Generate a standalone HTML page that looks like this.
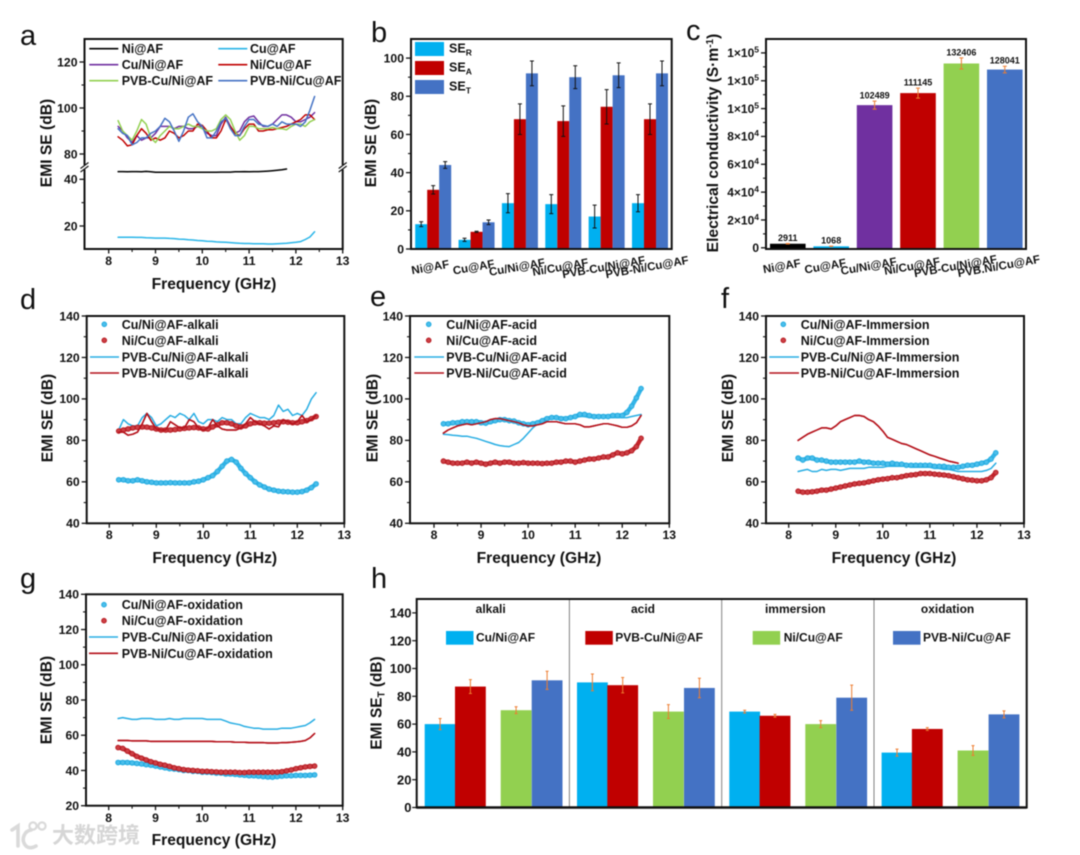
<!DOCTYPE html>
<html lang="en">
<head>
<meta charset="utf-8">
<title>EMI shielding figure</title>
<style>
  html, body { margin: 0; padding: 0; background: #ffffff; }
  #figure { display: block; filter: blur(0.45px); }
  text { font-family: "Liberation Sans", "Noto Sans CJK SC", sans-serif; fill: #111111; }
</style>
</head>
<body>
<svg id="figure" xmlns="http://www.w3.org/2000/svg" width="1080" height="855" viewBox="0 0 1080 855">
  <rect x="0" y="0" width="1080" height="855" fill="#ffffff"></rect>
  <g>
    <g fill="none" stroke="#dadada" stroke-width="3.6" stroke-linecap="round">
      <path d="M12 830 L18 826 L18 846"></path>
      <path d="M31 830 C24 831 22 839 24 843 C26 848 31 849 36 846"></path>
      <circle cx="33" cy="826" r="3.6" stroke-width="2.2"></circle>
      <circle cx="42" cy="826" r="3.6" stroke-width="2.2"></circle>
    </g>
    <text x="52" y="843" font-size="22" font-weight="bold" style="fill:#d6d6d6">大数跨境</text>
  </g>
</svg>
<script>
// ---------- shared frequency grid (GHz) ----------
const freqGHz = [8.2,8.3,8.4,8.5,8.6,8.7,8.8,8.9,9.0,9.1,9.2,9.3,9.4,9.5,9.6,9.7,9.8,9.9,10.0,10.1,10.2,10.3,10.4,10.5,10.6,10.7,10.8,10.9,11.0,11.1,11.2,11.3,11.4,11.5,11.6,11.7,11.8,11.9,12.0,12.1,12.2,12.3,12.4];

// ---------- panel a ----------
const aNiAF = [43.3,43.3,43.2,43.3,43.3,43.2,43.4,43.2,43.0,43.0,43.0,43.0,43.0,43.0,43.0,43.0,43.0,43.0,43.0,43.0,43.0,43.0,43.1,43.1,43.1,43.2,43.2,43.3,43.2,43.3,43.3,43.4,43.5,43.7,43.9,44.1,44.4];
const aCuAF = [15.2,15.2,15.2,15.2,15.1,15.1,15.0,14.9,14.8,14.8,14.8,14.7,14.6,14.4,14.3,14.1,14.0,13.8,13.7,13.5,13.4,13.2,13.1,13.0,12.9,12.7,12.6,12.5,12.5,12.4,12.4,12.4,12.3,12.3,12.4,12.5,12.6,12.8,13.0,13.3,14.2,15.3,17.5];
const aCuNiAF = [92,90,87,85,88,86,87,87,89,92,92,92,91,92,92,91,91,92,92,89,88,88,93,96,92,89,90,94,96,96.5,94,92,92,93,95,97,97,96,94,94,95,96,98];
const aNiCuAF = [87.5,86,83.5,84,88,91,89,86,87,86,87,90,89,87,88,90,90,93,92.5,90,87,87,90,95,92,89,88,91,93,93,90,90,90.5,90.5,91,91.5,92,93,94,95,97,97,95];
const aPvbCuNiAF = [94.5,90,88,86,90,95,93,87,85,88,90,92,91,91,92,93,92,92,91,90,90,91,95,97,95,90,86,88,92,92,91,91,91,91.5,91,91,90.5,92,93,93,92,94,95];
const aPvbNiCuAF = [91,89,88,84,85,87,87,89,90,92,95.5,94,90,85.5,90,96,97.5,94,92,87,87,90,94,95.5,91,88,88,92,95,95,93,92.5,92,93,92,94,93,93,93,92,94,99,105];

// ---------- panel b ----------
const bCategories = ['Ni@AF','Cu@AF','Cu/Ni@AF','Ni/Cu@AF','PVB-Cu/Ni@AF','PVB-Ni/Cu@AF'];
const bSER = [13,4.8,24,23.5,17,24];
const bSEA = [31,9,68,67,74.5,68];
const bSET = [44,14,92,90,91,92];
const bErrR = [1.3,0.8,5,5,6,4.5];
const bErrA = [2.2,0.3,8,8,9,8];
const bErrT = [1.8,1.2,6.5,6,6.5,6.5];
const bTicks = [0,20,40,60,80,100];
const bMinorTicks = [10,30,50,70,90];

// ---------- panel c ----------
const cCategories = ['Ni@AF','Cu@AF','Cu/Ni@AF','Ni/Cu@AF','PVB-Cu/Ni@AF','PVB.Ni/Cu@AF'];
const cValues = [2911,1068,102489,111145,132406,128041];
const cErrors = [150,100,2900,3600,4000,2400];
const cBarColors = ['#000000','#00B0F0','#7030A0','#C00000','#92D050','#4472C4'];
const cTicks = [0,20000,40000,60000,80000,100000,120000,140000];
const cTickBase = ['0','2×10','4×10','6×10','8×10','1×10','1×10','1×10'];
const cTickExp = ['','4','4','4','4','5','5','5'];
const cMinorTicks = [10000,30000,50000,70000,90000,110000,130000];

// ---------- panel d ----------
const dCuNi = [61,61,60.5,60.5,61,60.5,60,59.8,59.5,59.5,59.5,59.6,59.5,59.5,59.5,59.5,60,60.3,61,62,63,65,67.5,70,70.8,69.5,66.5,64,62,60,58.5,57.5,56.5,56,55.5,55.3,55.2,55,55,55.3,56,57.2,59];
const dNiCu = [84.5,85,85.5,86,86.3,86.5,86.4,86,85.5,85,85,85,85.2,85.5,85.8,86,86.2,86,85.5,85.5,86.5,87.5,88.5,88.5,88,87,86.5,87,88,88.5,88.5,88.3,88.3,88.5,88.8,89,88.8,88.5,88.5,89,89.5,90.5,91.5];
const dPvbCuNi = [85,90,88,87,87,91,93,91,87,88,90,92,91,93,92,90,93,89,88,90,90,89,91,90,90,88,88,91,93,92,91,91,90,92,97,94,95,92,93,92,95,100,103];
const dPvbNiCu = [84,84,82.5,83,84,88,93,89,85.5,85,85,89,87.5,86,86,90,89,86,85,86,90,87,85.5,85,85,85,86,88,91,89,88,87,85.5,87,86.5,90,89,88,89,92,89,90,92];

// ---------- panel e ----------
const eCuNi = [88,88,88.5,88.5,89,89,89,89,88.5,88.3,89,89.5,90,90,89.5,89.3,88.5,88,87.5,88,88.5,89.5,90.5,91,91,90.5,90.5,91,91.5,92.5,92.5,92,91.5,91.5,91.5,91.5,92,92,92,93.5,96.5,100.5,105];
const eNiCu = [70,69.5,69,69,69,69.5,69,69.5,69,68.5,69,69.5,69,69.5,69.5,69,69,69.3,69,69,69,68.8,69,69,69.5,69.5,70,70,69.5,70,70.5,71,71,71.5,72,72,73,74,73.5,74,75,77,81];
const ePvbCuNi = [83,82.8,82.5,82.3,82,82,81.5,81,80.3,79.5,78.8,78,77.5,77.2,77,78,79,81,83.5,86,88,89.5,90,90.5,90.5,90.5,91,91,91,91.5,91.5,91,91,91,91,91,91,91,91,91,91.5,92,92.5];
const ePvbNiCu = [83.5,85,86,87,87.5,88,87.5,88,88.5,89,90,90.5,90.5,90,89.5,89,88.5,87.5,87,87,87.5,88,89,89,89,88.5,88,88,88,87.5,86.5,86.5,87,87.5,88,88,87.5,87,86.3,86.3,87,88.5,92];

// ---------- panel f ----------
const fCuNi = [71.5,70.5,71.5,71.5,70.5,70.5,70,69.5,69.5,69.5,69.5,69.5,69.5,70,69.5,69.5,69,69,69,68.5,69,68.5,68.5,68,68,68,68,68,68,67.5,67.5,67.5,67,67,67,67.5,68,68,68.5,69,69.5,71,74];
const fNiCu = [55.5,55,55,55.2,55.5,56,56,56.5,57,57.5,58,58.5,59,59.3,59.5,60,60.5,61,61.3,61.5,62,62,62.5,63,63.3,63.5,64,64,64,63.7,63.5,63.3,63,62.5,62,61.5,61,60.8,60.5,60.5,61,62,64.5];
const fPvbCuNi = [65,65.5,66,65,65,66,65.5,66,66,65.5,66,66.5,66.5,66.5,66.5,67,67,67,67,67.5,67.5,67.5,67.5,67.5,67,67,67,67,67,66.5,66.5,66,66,65.5,65,65,65,65,65,65,65.5,66.5,69];
const fPvbNiCu = [80,81.5,83,84,85,86,86,85.5,87,89,90,91,92,92,91.5,90,89,87,84.5,81.5,80.5,79.5,78.5,78,77,76,75,74,73,72.3,71.5,70.8,70,69.5,69];

// ---------- panel g ----------
const gCuNi = [44.5,44.5,44.5,44.3,44,43.7,43.3,43,42.5,42,41.5,41,40.8,40.5,40,40,39.5,39.5,39,39,38.8,38.5,38.5,38,38,37.8,37.5,37.3,37,37,36.8,36.5,36.3,36.2,36.5,36.8,37,37,37.2,37.2,37.2,37.3,37.5];
const gNiCu = [53,52.5,51,49.5,48,47,46,45,44.3,43.5,43,42.3,41.5,41,40.5,40.2,40,39.8,39.5,39.5,39.3,39.2,39,39,39,39,38.8,38.8,39,39,39,39,39,39,39,39.3,39.8,40.3,41,41.5,42,42.3,42.5];
const gPvbCuNi = [69.5,70,69.5,69,69,69.5,69.5,69.5,69,69,69,69.5,69,69,69.5,69.5,69.5,69.5,69.5,69,69,69,69,68,67,66.5,66,65,64.5,64,64,63.5,63.5,63.5,63.5,64,64,64,64.5,65,65.5,67,69];
const gPvbNiCu = [57,57,57,56.8,56.8,56.8,56.8,56.5,56.5,56.5,56.5,56.5,56.5,56.5,56.5,56.5,56.5,56.5,56.5,56.5,56.5,56.3,56.3,56.3,56.3,56,56,56,55.8,55.8,55.8,55.8,55.6,55.6,55.6,55.8,55.8,56,56.2,56.5,57,58.5,61];

// ---------- panel h ----------
const hConditions = ['alkali','acid','immersion','oxidation'];
const hSeriesNames = ['Cu/Ni@AF','PVB-Cu/Ni@AF','Ni/Cu@AF','PVB-Ni/Cu@AF'];
const hCuNi = [60,90,69,39.5];
const hPvbCuNi = [87,88,66,56.5];
const hNiCu = [70,69,60,41];
const hPvbNiCu = [91.5,86,79,67];
const hErrCuNi = [4,6,1,2.5];
const hErrPvbCuNi = [5,5.5,1,1];
const hErrNiCu = [2.5,5,2.5,3.5];
const hErrPvbNiCu = [6.5,7,9,2.5];
const hTicks = [0,20,40,60,80,100,120,140];

// ---------- colours ----------
const BLUE = '#00B0F0', RED = '#C00000', GREEN = '#92D050', PURPLE = '#7030A0', NAVY = '#4472C4', ORANGE = '#ED7D31', INK = '#111111';
const LINE_BLUE = '#27ADE3';

// ---------- helpers ----------
const NS = 'http://www.w3.org/2000/svg';
const root = document.getElementById('figure');
function make(tag, attrs, parent) {
  const node = document.createElementNS(NS, tag);
  for (const k in attrs) node.setAttribute(k, attrs[k]);
  parent.appendChild(node);
  return node;
}
function write(parent, str, x, y, size, anchor, weight) {
  const node = make('text', {x: x, y: y, 'font-size': size, 'text-anchor': anchor || 'start', 'font-weight': weight || 'bold'}, parent);
  node.textContent = str;
  return node;
}
function linearScale(d0, d1, r0, r1) {
  return function (v) { return r0 + (v - d0) * (r1 - r0) / (d1 - d0); };
}
function panelGroup(name) {
  const g = make('g', {}, root);
  
  
  return g;
}
function panelLetter(g, ch, x, y) {
  const t = write(g, ch, x, y, 29, 'start', 'normal');
  
  
}
function frame(g, l, t, r, b) {
  const f = make('rect', {x: l, y: t, width: r - l, height: b - t, fill: 'none', stroke: INK, 'stroke-width': 2}, g);
  
  
}
function yTicks(g, ys, majors, minors, left, labelRight, labeler) {
  majors.forEach(function (v, i) {
    const y = ys(v);
    const tick = make('line', {x1: left - 5, x2: left, y1: y, y2: y, stroke: INK, 'stroke-width': 1.3}, g);
    
    
    const lab = labeler ? labeler(g, v, i, labelRight, y + 4.3) : write(g, String(v), labelRight, y + 4.3, 12.2, 'end');
    
    
  });
  minors.forEach(function (v) {
    const y = ys(v);
    const tick = make('line', {x1: left - 3, x2: left, y1: y, y2: y, stroke: INK, 'stroke-width': 1.1}, g);
    
    
  });
}
function xTicks(g, xs, bottom, labelY) {
  [8, 9, 10, 11, 12, 13].forEach(function (v) {
    const x = xs(v);
    const tick = make('line', {x1: x, x2: x, y1: bottom, y2: bottom + 4.5, stroke: INK, 'stroke-width': 1.3}, g);
    
    
    const lab = write(g, String(v), x, labelY, 12.2, 'middle');
    
    
  });
  [8.5, 9.5, 10.5, 11.5, 12.5].forEach(function (v) {
    const x = xs(v);
    const tick = make('line', {x1: x, x2: x, y1: bottom, y2: bottom + 3, stroke: INK, 'stroke-width': 1.1}, g);
    
    
  });
}
function xTitle(g, x, y) {
  const t = write(g, 'Frequency (GHz)', x, y, 15.6, 'middle');
  
  
}
function yTitle(g, str, x, y) {
  const t = write(g, str, x, y, 15.6, 'middle');
  t.setAttribute('transform', 'rotate(-90 ' + x + ' ' + y + ')');
  
  
  return t;
}
function polylineFor(g, values, xs, ys, color, width) {
  const pts = values.map(function (v, i) { return xs(freqGHz[i]).toFixed(1) + ',' + ys(v).toFixed(1); }).join(' ');
  return make('polyline', {points: pts, fill: 'none', stroke: color, 'stroke-width': width, 'stroke-linejoin': 'round', 'stroke-linecap': 'round'}, g);
}
function markerFor(g, cx, cy, color) {
  const fill = color === 'blue' ? '#4BBEEB' : '#CC3F45';
  const edge = color === 'blue' ? '#22ABE0' : '#B81D24';
  return make('circle', {cx: cx, cy: cy, r: 2.3, fill: fill, stroke: edge, 'stroke-width': 1}, g);
}
function lineSeries(g, name, values, xs, ys, color) {
  const pl = polylineFor(g, values, xs, ys, color, 1.5);
  
  
}
function scatterSeries(g, name, values, xs, ys, kind) {
  const sg = make('g', {}, g);
  
  
  const band = polylineFor(sg, values, xs, ys, kind === 'blue' ? '#35B5E8' : '#C4242B', 4.4);
  
  
  values.forEach(function (v, i) {
    const m = markerFor(sg, xs(freqGHz[i]), ys(v), kind);
    
    
  });
}
function legendLine(g, label, x1, x2, textX, y, color) {
  const ln = make('line', {x1: x1, x2: x2, y1: y, y2: y, stroke: color, 'stroke-width': 1.6}, g);
  
  
  const t = write(g, label, textX, y + 4.5, 12.5);
  
  
}
function legendMarker(g, label, cx, textX, y, kind) {
  const m = markerFor(g, cx, y, kind);
  
  
  const t = write(g, label, textX, y + 4.5, 12.5);
  
  
}
function errorBar(g, x, yLow, yHigh, cap, color, width) {
  const path = 'M' + x + ' ' + yLow + 'V' + yHigh + 'M' + (x - cap) + ' ' + yLow + 'H' + (x + cap) + 'M' + (x - cap) + ' ' + yHigh + 'H' + (x + cap);
  const e = make('path', {d: path, fill: 'none', stroke: color, 'stroke-width': width}, g);
  
  
}
function bar(g, name, x, w, yTop, yBase, color) {
  const r = make('rect', {x: x, y: yTop, width: w, height: yBase - yTop, fill: color}, g);
  
  
}

// generic line/scatter panel (d, e, f, g)
function drawCurvePanel(cfg) {
  const g = panelGroup(cfg.id);
  const xs = linearScale(8, 13, cfg.x8, cfg.right);
  const ys = linearScale(cfg.vBottom, cfg.vTop, cfg.bottom, cfg.top);
  panelLetter(g, cfg.letter, cfg.letterX, cfg.letterY);
  lineSeries(g, 'series-pvb-cu-ni', cfg.pvbCuNi, xs, ys, LINE_BLUE);
  lineSeries(g, 'series-pvb-ni-cu', cfg.pvbNiCu, xs, ys, '#B5121B');
  scatterSeries(g, 'series-cu-ni', cfg.cuNi, xs, ys, 'blue');
  scatterSeries(g, 'series-ni-cu', cfg.niCu, xs, ys, 'red');
  lineSeries(g, 'series-pvb-ni-cu-overlay', cfg.pvbNiCu, xs, ys, '#B5121B');
  frame(g, cfg.left, cfg.top, cfg.right, cfg.bottom);
  yTicks(g, ys, cfg.majors, cfg.minors, cfg.left, cfg.left - 7);
  xTicks(g, xs, cfg.bottom, cfg.tickY);
  xTitle(g, cfg.titleX, cfg.titleY);
  yTitle(g, 'EMI SE (dB)', cfg.yTitleX, cfg.yTitleY);
  const L = cfg.legend;
  legendMarker(g, 'Cu/Ni@AF-' + cfg.suffix, L.marker, L.text, L.rows[0], 'blue');
  legendMarker(g, 'Ni/Cu@AF-' + cfg.suffix, L.marker, L.text, L.rows[1], 'red');
  legendLine(g, 'PVB-Cu/Ni@AF-' + cfg.suffix, L.x1, L.x2, L.text, L.rows[2], LINE_BLUE);
  legendLine(g, 'PVB-Ni/Cu@AF-' + cfg.suffix, L.x1, L.x2, L.text, L.rows[3], '#B5121B');
}

// ---------- draw panel a ----------
(function () {
  const g = panelGroup('panel-a');
  const left = 84.5, right = 342.7, top = 39, bottom = 249;
  const xs = linearScale(8, 13, 108.7, right);
  const yUpper = linearScale(80, 120, 154, 62);
  const yLower = linearScale(20, 40, 226, 179.3);
  const ys = function (v) { return v >= 60 ? yUpper(v) : yLower(v); };
  panelLetter(g, 'a', 20, 45);
  lineSeries(g, 'series-ni-af', aNiAF, xs, ys, '#000000');
  lineSeries(g, 'series-cu-af', aCuAF, xs, ys, '#29B5E8');
  lineSeries(g, 'series-cu-ni-af', aCuNiAF, xs, ys, PURPLE);
  lineSeries(g, 'series-ni-cu-af', aNiCuAF, xs, ys, RED);
  lineSeries(g, 'series-pvb-cu-ni-af', aPvbCuNiAF, xs, ys, GREEN);
  lineSeries(g, 'series-pvb-ni-cu-af', aPvbNiCuAF, xs, ys, NAVY);
  frame(g, left, top, right, bottom);
  [left, right].forEach(function (x) {
    const gap = make('rect', {x: x - 3, y: 165, width: 6, height: 4.5, fill: '#ffffff'}, g);
    
    
    const slash = make('path', {d: 'M' + (x - 4) + ' 168.5L' + (x + 4) + ' 162.5M' + (x - 4) + ' 172L' + (x + 4) + ' 166', fill: 'none', stroke: INK, 'stroke-width': 1.1}, g);
    
    
  });
  yTicks(g, ys, [20, 40, 80, 100, 120], [30, 90, 110], left, 77.5);
  xTicks(g, xs, bottom, 265);
  xTitle(g, 214, 289);
  yTitle(g, 'EMI SE (dB)', 51.5, 143);
  legendLine(g, 'Ni@AF', 89.3, 118.3, 121.7, 48.7, '#000000');
  legendLine(g, 'Cu@AF', 218.3, 247.3, 250, 48.7, '#29B5E8');
  legendLine(g, 'Cu/Ni@AF', 89.3, 118.3, 121.7, 64.7, PURPLE);
  legendLine(g, 'Ni/Cu@AF', 218.3, 247.3, 250, 64.7, RED);
  legendLine(g, 'PVB-Cu/Ni@AF', 89.3, 118.3, 121.7, 80.7, GREEN);
  legendLine(g, 'PVB-Ni/Cu@AF', 218.3, 247.3, 250, 80.7, NAVY);
})();

// ---------- draw panel b ----------
(function () {
  const g = panelGroup('panel-b');
  const left = 411, right = 671.7, top = 39, bottom = 249;
  const ys = linearScale(0, 110, bottom, top);
  const groupX = linearScale(0, 5, 433.2, 650);
  const w = 12;
  panelLetter(g, 'b', 371, 42);
  bCategories.forEach(function (cat, i) {
    const c = groupX(i);
    const series = [[bSER, bErrR, BLUE, 'bar-se-r'], [bSEA, bErrA, RED, 'bar-se-a'], [bSET, bErrT, NAVY, 'bar-se-t']];
    series.forEach(function (s, j) {
      const x = c - 18 + j * 12;
      const v = s[0][i], e = s[1][i];
      bar(g, s[3], x, w, ys(v), bottom, s[2]);
      errorBar(g, x + w / 2, ys(v - e), ys(v + e), 2, '#111111', 1);
    });
    const t = write(g, cat, c - 3, 271, 11.5, 'middle');
    t.setAttribute('transform', 'rotate(-10 ' + (c - 3) + ' 267)');
    
    
  });
  frame(g, left, top, right, bottom);
  yTicks(g, ys, bTicks, bMinorTicks, left, 404);
  yTitle(g, 'EMI SE (dB)', 376, 143);
  [[42, BLUE, 'R'], [61, RED, 'A'], [80, NAVY, 'T']].forEach(function (row) {
    const sw = make('rect', {x: 415, y: row[0], width: 29, height: 14, fill: row[1]}, g);
    
    
    const t = write(g, 'SE', 449, row[0] + 10.5, 12.5);
    
    
    const sub = make('tspan', {dy: 3, 'font-size': 8.5}, t);
    sub.textContent = row[2];
  });
})();

// ---------- draw panel c ----------
(function () {
  const g = panelGroup('panel-c');
  const left = 766, right = 1026, top = 39, bottom = 249;
  const ys = linearScale(0, 150000, 247.8, top);
  const groupX = linearScale(0, 5, 787.8, 1004.8);
  panelLetter(g, 'c', 686, 40);
  frame(g, left, top, right, bottom);
  cValues.forEach(function (v, i) {
    const c = groupX(i);
    bar(g, 'bar-conductivity', c - 17.8, 35.6, ys(v), 248, cBarColors[i]);
    errorBar(g, c, ys(v - cErrors[i]), ys(v + cErrors[i]), 2, ORANGE, 1);
    const val = write(g, String(v), c, ys(v + cErrors[i]) - 2.5, 9, 'middle');
    
    
    const t = write(g, cCategories[i], c - 6, 270, 11.5, 'middle');
    t.setAttribute('transform', 'rotate(-10 ' + (c - 6) + ' 266)');
    
    
  });
  yTicks(g, ys, cTicks, cMinorTicks, left, 759, function (parent, v, i, x, y) {
    const t = write(parent, cTickBase[i], x, y, 12, 'end');
    if (cTickExp[i]) {
      const sup = make('tspan', {dy: -4.5, 'font-size': 8.5}, t);
      sup.textContent = cTickExp[i];
    }
    return t;
  });
  const title = yTitle(g, 'Electrical conductivity (S·m', 718, 143);
  const sup = make('tspan', {dy: -5, 'font-size': 10}, title);
  sup.textContent = '-1';
  const close = make('tspan', {dy: 5}, title);
  close.textContent = ')';
})();

// ---------- draw panels d-g ----------
const tickSet = [40, 60, 80, 100, 120, 140];
const minorSet = [50, 70, 90, 110, 130];
drawCurvePanel({
  id: 'panel-d', letter: 'd', letterX: 20, letterY: 309, left: 86.7, right: 344.3, top: 316, bottom: 523.3, x8: 109.3,
  vTop: 140, vBottom: 40, majors: tickSet, minors: minorSet, tickY: 539, titleX: 214.7, titleY: 563, yTitleX: 52.7, yTitleY: 418,
  cuNi: dCuNi, niCu: dNiCu, pvbCuNi: dPvbCuNi, pvbNiCu: dPvbNiCu, suffix: 'alkali',
  legend: {marker: 104.3, text: 121.7, x1: 90, x2: 119, rows: [324.3, 340.3, 357, 373]}
});
drawCurvePanel({
  id: 'panel-e', letter: 'e', letterX: 370, letterY: 306, left: 410, right: 669.3, top: 316, bottom: 523.3, x8: 434,
  vTop: 140, vBottom: 40, majors: tickSet, minors: minorSet, tickY: 539, titleX: 539, titleY: 563, yTitleX: 377.3, yTitleY: 418,
  cuNi: eCuNi, niCu: eNiCu, pvbCuNi: ePvbCuNi, pvbNiCu: ePvbNiCu, suffix: 'acid',
  legend: {marker: 428.7, text: 446.3, x1: 414.3, x2: 444, rows: [324.3, 340.3, 357, 373]}
});
drawCurvePanel({
  id: 'panel-f', letter: 'f', letterX: 721, letterY: 308, left: 766, right: 1024, top: 316, bottom: 523.3, x8: 788.7,
  vTop: 140, vBottom: 40, majors: tickSet, minors: minorSet, tickY: 539, titleX: 894, titleY: 563, yTitleX: 733, yTitleY: 418,
  cuNi: fCuNi, niCu: fNiCu, pvbCuNi: fPvbCuNi, pvbNiCu: fPvbNiCu, suffix: 'Immersion',
  legend: {marker: 783.3, text: 800.7, x1: 769.3, x2: 799, rows: [324.3, 340.3, 357, 373]}
});
drawCurvePanel({
  id: 'panel-g', letter: 'g', letterX: 20, letterY: 588, left: 86, right: 342.7, top: 594.3, bottom: 805.7, x8: 108.7,
  vTop: 140, vBottom: 20, majors: [20, 40, 60, 80, 100, 120, 140], minors: [30, 50, 70, 90, 110, 130], tickY: 822, titleX: 214, titleY: 845, yTitleX: 51.7, yTitleY: 700,
  cuNi: gCuNi, niCu: gNiCu, pvbCuNi: gPvbCuNi, pvbNiCu: gPvbNiCu, suffix: 'oxidation',
  legend: {marker: 104, text: 121.7, x1: 89, x2: 118, rows: [604.7, 620.7, 637, 653.3]}
});

// ---------- draw panel h ----------
(function () {
  const g = panelGroup('panel-h');
  const left = 416.7, right = 1026.7, top = 599, bottom = 807.5;
  const ys = linearScale(0, 150, bottom, top);
  panelLetter(g, 'h', 371, 588);
  const groups = linearScale(0, 3, 424.7, 881.6);
  const offsets = [0, 30.3, 76, 107];
  const series = [[hCuNi, hErrCuNi, BLUE, 'bar-cu-ni'], [hPvbCuNi, hErrPvbCuNi, RED, 'bar-pvb-cu-ni'], [hNiCu, hErrNiCu, GREEN, 'bar-ni-cu'], [hPvbNiCu, hErrPvbNiCu, NAVY, 'bar-pvb-ni-cu']];
  hConditions.forEach(function (cond, i) {
    const x0 = groups(i);
    series.forEach(function (s, j) {
      const x = x0 + offsets[j];
      bar(g, s[3], x, 30.8, ys(s[0][i]), bottom, s[2]);
      errorBar(g, x + 15.4, ys(s[0][i] - s[1][i]), ys(s[0][i] + s[1][i]), 1.5, ORANGE, 1);
    });
    const t = write(g, cond, x0 + 66, 613, 12, 'middle');
    
    
    if (i > 0) {
      const dx = x0 - 7.6;
      const d = make('line', {x1: dx, x2: dx, y1: top, y2: bottom, stroke: '#808080', 'stroke-width': 1}, g);
      
      
    }
  });
  frame(g, left, top, right, bottom);
  const axis = make('line', {x1: left, x2: right, y1: bottom, y2: bottom, stroke: INK, 'stroke-width': 2.4}, g);
  
  
  hTicks.forEach(function (v) {
    const y = ys(v);
    const tick = make('line', {x1: left - 4.5, x2: left, y1: y, y2: y, stroke: INK, 'stroke-width': 1.2}, g);
    
    
    const lab = write(g, String(v), 411.5, y + 4.6, 13, 'end');
    
    
  });
  const title = write(g, 'EMI SE', 381.7, 703, 15.4, 'middle');
  title.setAttribute('transform', 'rotate(-90 381.7 703)');
  
  
  const sub = make('tspan', {dy: 3, 'font-size': 10}, title);
  sub.textContent = 'T';
  const rest = make('tspan', {dy: -3}, title);
  rest.textContent = ' (dB)';
  [[446, BLUE, 476], [585.3, RED, 615.3], [752.7, GREEN, 783.7], [893, NAVY, 923]].forEach(function (row, i) {
    const sw = make('rect', {x: row[0], y: 631, width: 27.5, height: 13.7, fill: row[1]}, g);
    
    
    const t = write(g, hSeriesNames[i], row[2], 641.5, 12);
    
    
  });
})();
</script>
</body>
</html>
